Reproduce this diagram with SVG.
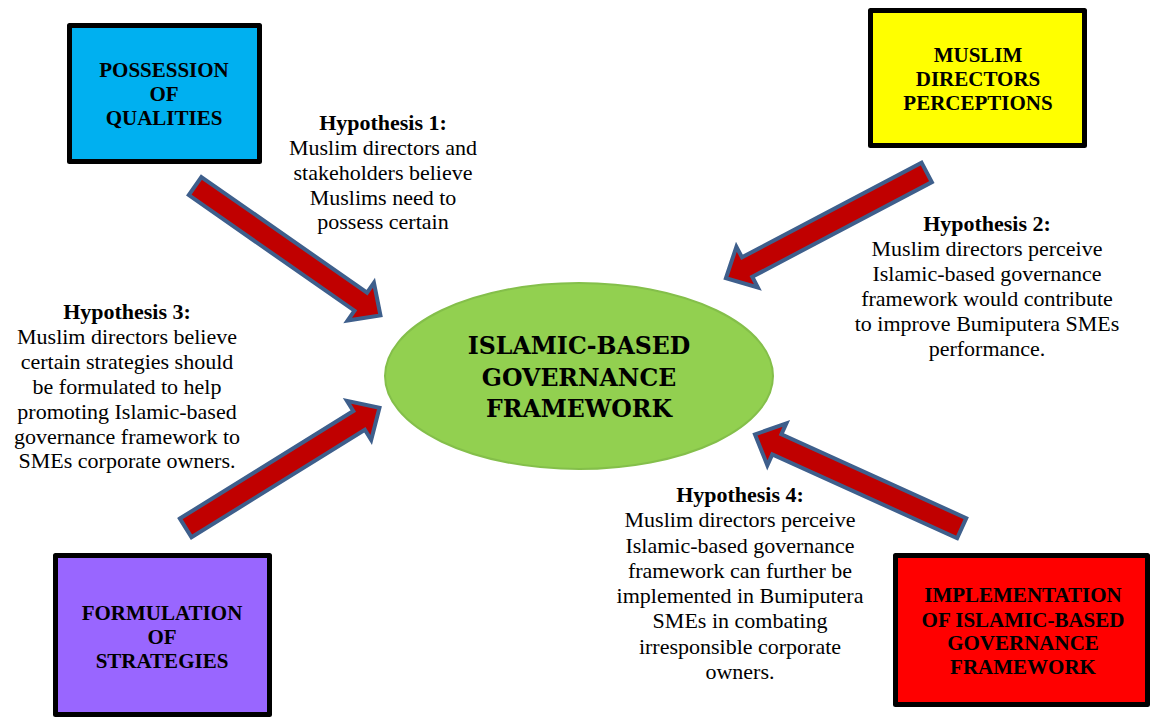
<svg xmlns="http://www.w3.org/2000/svg" width="1151" height="718" viewBox="0 0 1151 718">
<style>
.box{stroke:#000;stroke-width:5;stroke-linejoin:round}
.bt{font-family:"Liberation Serif","Times New Roman",serif;font-weight:bold;font-size:21px;fill:#000;text-anchor:middle}
.ct{font-family:"DejaVu Serif",serif;font-weight:bold;font-size:23.6px;fill:#000;text-anchor:middle}
.hh{font-family:"Liberation Serif","Times New Roman",serif;font-weight:bold;font-size:22px;fill:#000;text-anchor:middle}
.ht{font-family:"Liberation Serif","Times New Roman",serif;font-size:22px;fill:#000;text-anchor:middle}
.arr{fill:#C00000;stroke:#3E5F8C;stroke-width:4;stroke-linejoin:miter}
</style>
<rect width="1151" height="718" fill="#fff"/>
<g id="connectors">
<polygon class="arr" transform="translate(195.1,186.1) rotate(34.9)" points="0,-11 202,-11 202,-23 226,0 202,23 202,11 0,11"/>
<polygon class="arr" transform="translate(926.7,172.4) rotate(152.2)" points="0,-11 203,-11 203,-23 227,0 203,23 203,11 0,11"/>
<polygon class="arr" transform="translate(185.7,527.9) rotate(-31.8)" points="0,-11 204,-11 204,-23 228,0 204,23 204,11 0,11"/>
<polygon class="arr" transform="translate(961.7,528.2) rotate(-155.6)" points="0,-11 203,-11 203,-23 227,0 203,23 203,11 0,11"/>
</g>
<g id="center">
<ellipse cx="579" cy="376" rx="194" ry="93" fill="#92D050" stroke="#84BF4A" stroke-width="2"/>
<text class="ct" x="579" y="354">ISLAMIC-BASED</text>
<text class="ct" x="579" y="386">GOVERNANCE</text>
<text class="ct" x="579" y="417">FRAMEWORK</text>
</g>
<g id="possession">
<rect class="box" x="69.5" y="25.5" width="190" height="136" fill="#00B0F0"/>
<text class="bt" x="164" y="77">POSSESSION</text>
<text class="bt" x="164" y="101">OF</text>
<text class="bt" x="164" y="125">QUALITIES</text>
</g>
<g id="perceptions">
<rect class="box" x="870.5" y="10.5" width="214" height="135" fill="#FFFF00"/>
<text class="bt" x="978" y="62">MUSLIM</text>
<text class="bt" x="978" y="86">DIRECTORS</text>
<text class="bt" x="978" y="110">PERCEPTIONS</text>
</g>
<g id="strategies">
<rect class="box" x="55.5" y="555.5" width="214" height="159" fill="#9966FF"/>
<text class="bt" x="162" y="620">FORMULATION</text>
<text class="bt" x="162" y="644">OF</text>
<text class="bt" x="162" y="668">STRATEGIES</text>
</g>
<g id="implementation">
<rect class="box" x="895.5" y="555.5" width="252" height="149" fill="#FF0000"/>
<text class="bt" x="1023" y="602">IMPLEMENTATION</text>
<text class="bt" x="1023" y="627">OF ISLAMIC-BASED</text>
<text class="bt" x="1023" y="650">GOVERNANCE</text>
<text class="bt" x="1023" y="674">FRAMEWORK</text>
</g>
<g id="hypothesis1">
<text class="hh" x="383" y="130">Hypothesis 1:</text>
<text class="ht" x="383" y="155">Muslim directors and</text>
<text class="ht" x="383" y="180">stakeholders believe</text>
<text class="ht" x="383" y="205">Muslims need to</text>
<text class="ht" x="383" y="229">possess certain</text>
</g>
<g id="hypothesis2">
<text class="hh" x="987" y="231">Hypothesis 2:</text>
<text class="ht" x="987" y="256">Muslim directors perceive</text>
<text class="ht" x="987" y="281">Islamic-based governance</text>
<text class="ht" x="987" y="306">framework would contribute</text>
<text class="ht" x="987" y="331">to improve Bumiputera SMEs</text>
<text class="ht" x="987" y="356">performance.</text>
</g>
<g id="hypothesis3">
<text class="hh" x="127" y="319">Hypothesis 3:</text>
<text class="ht" x="127" y="344">Muslim directors believe</text>
<text class="ht" x="127" y="369">certain strategies should</text>
<text class="ht" x="127" y="394">be formulated to help</text>
<text class="ht" x="127" y="419">promoting Islamic-based</text>
<text class="ht" x="127" y="444">governance framework to</text>
<text class="ht" x="127" y="468">SMEs corporate owners.</text>
</g>
<g id="hypothesis4">
<text class="hh" x="740" y="502">Hypothesis 4:</text>
<text class="ht" x="740" y="527">Muslim directors perceive</text>
<text class="ht" x="740" y="553">Islamic-based governance</text>
<text class="ht" x="740" y="578">framework can further be</text>
<text class="ht" x="740" y="603">implemented in Bumiputera</text>
<text class="ht" x="740" y="628">SMEs in combating</text>
<text class="ht" x="740" y="654">irresponsible corporate</text>
<text class="ht" x="740" y="679">owners.</text>
</g>
</svg>
